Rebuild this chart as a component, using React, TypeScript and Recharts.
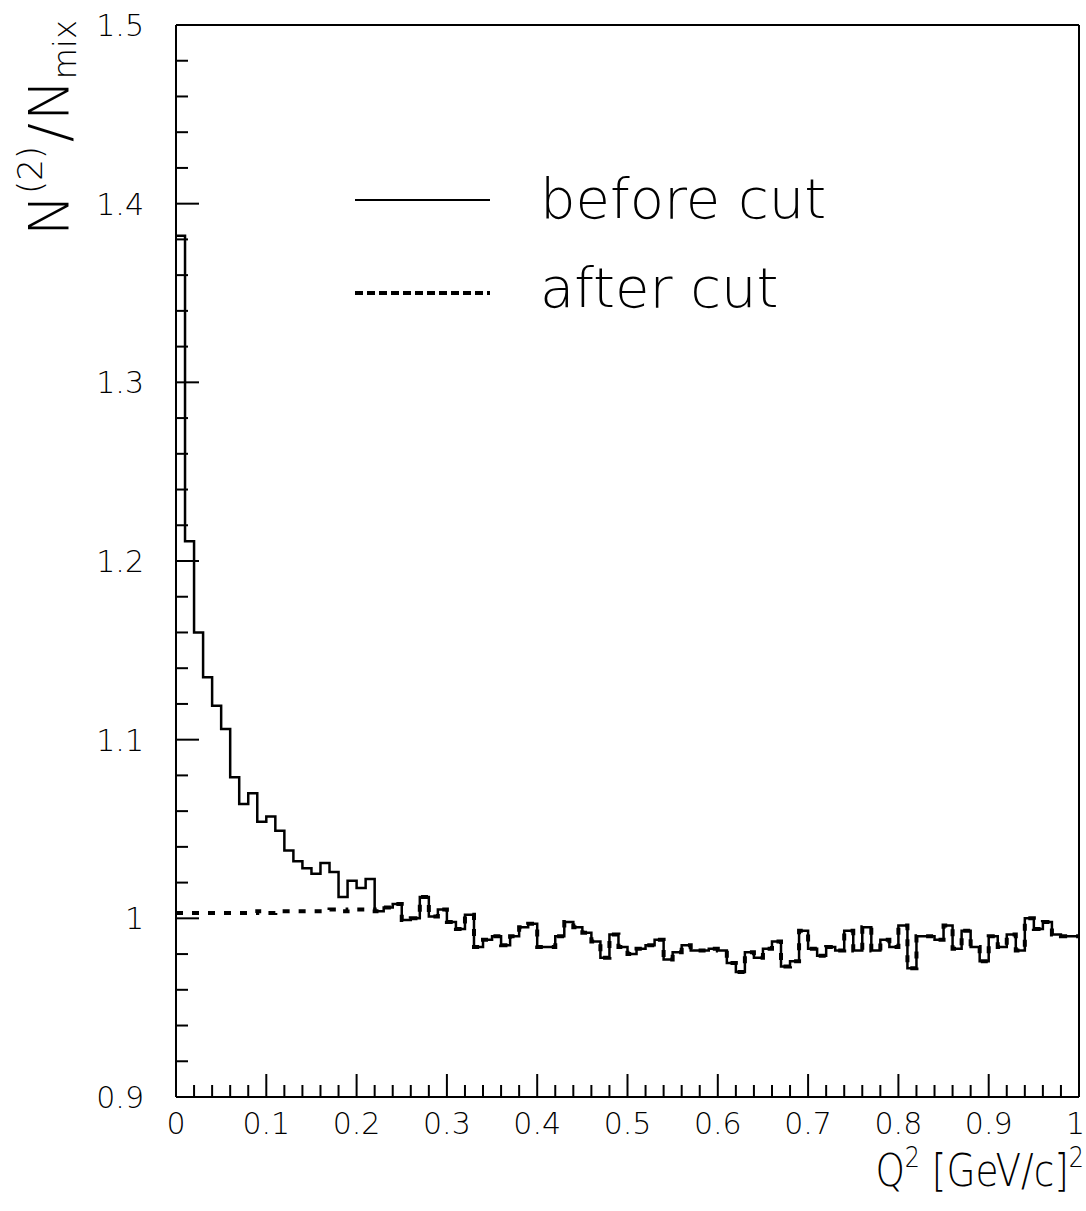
import { LineChart, Line, XAxis, YAxis, ReferenceLine, Legend } from "recharts";

// Q^2 bin width is 0.01 [GeV/c]^2, 100 bins from 0 to 1
const BIN = 0.01;

// bins 0..21 (Q^2 < 0.22), where the two curves separate
const beforeLow = [
  1.382, 1.211, 1.16, 1.135, 1.119, 1.106, 1.079, 1.064, 1.07, 1.054, 1.057,
  1.049, 1.038, 1.032, 1.028, 1.025, 1.031, 1.026, 1.012, 1.021, 1.017, 1.022,
];
const afterLow = [
  1.003, 1.003, 1.003, 1.003, 1.003, 1.003, 1.003, 1.003, 1.003, 1.004, 1.003,
  1.004, 1.004, 1.004, 1.004, 1.004, 1.004, 1.005, 1.004, 1.005, 1.005, 1.005,
];
// bins 22..99, both curves lie on top of each other
const common = [
  1.004, 1.006, 1.008, 0.999, 1.0, 1.012, 1.001, 1.005, 0.998, 0.994, 1.002,
  0.984, 0.988, 0.99, 0.985, 0.99, 0.995, 0.997, 0.984, 0.984, 0.99, 0.998,
  0.995, 0.992, 0.987, 0.978, 0.991, 0.984, 0.98, 0.983, 0.985, 0.988, 0.977,
  0.981, 0.985, 0.982, 0.982, 0.983, 0.982, 0.975, 0.97, 0.981, 0.978, 0.983,
  0.987, 0.973, 0.976, 0.993, 0.983, 0.979, 0.984, 0.982, 0.993, 0.982, 0.995,
  0.982, 0.988, 0.984, 0.996, 0.972, 0.99, 0.99, 0.988, 0.996, 0.983, 0.993,
  0.984, 0.976, 0.99, 0.984, 0.991, 0.982, 1.0, 0.994, 0.998, 0.991, 0.99,
  0.99,
];

const yTicks = [
  0.9, 0.92, 0.94, 0.96, 0.98, 1.0, 1.02, 1.04, 1.06, 1.08, 1.1, 1.12, 1.14,
  1.16, 1.18, 1.2, 1.22, 1.24, 1.26, 1.28, 1.3, 1.32, 1.34, 1.36, 1.38, 1.4,
  1.42, 1.44, 1.46, 1.48, 1.5,
];
const xTicks = [
  0, 0.02, 0.04, 0.06, 0.08, 0.1, 0.12, 0.14, 0.16, 0.18, 0.2, 0.22, 0.24,
  0.26, 0.28, 0.3, 0.32, 0.34, 0.36, 0.38, 0.4, 0.42, 0.44, 0.46, 0.48, 0.5,
  0.52, 0.54, 0.56, 0.58, 0.6, 0.62, 0.64, 0.66, 0.68, 0.7, 0.72, 0.74, 0.76,
  0.78, 0.8, 0.82, 0.84, 0.86, 0.88, 0.9, 0.92, 0.94, 0.96, 0.98, 1,
];

const before = [...beforeLow, ...common];
const after = [...afterLow, ...common];

const data = before.map((b, i) => ({ q: i * BIN, before: b, after: after[i] }));
// closing edge so the last step reaches Q^2 = 1
data.push({ q: 1, before: before[before.length - 1], after: after[after.length - 1] });

const FONT = "DejaVu Sans";

const isMajor = (v: number) => Math.abs(v * 10 - Math.round(v * 10)) < 1e-6;
const fmt = (v: number) => String(Number(v.toFixed(1)));

function YTick(props: any) {
  const { x, y, payload } = props;
  const major = isMajor(payload.value);
  return (
    <g>
      <line x1={x} x2={x + (major ? 23 : 12)} y1={y} y2={y} stroke="#000" strokeWidth={2} />
      {major && (
        <text x={x - 32} y={y + 11} textAnchor="end" fontFamily={FONT} fontWeight={300} fontSize={30} fill="#000">
          {fmt(payload.value)}
        </text>
      )}
    </g>
  );
}

function XTick(props: any) {
  const { x, y, payload } = props;
  const major = isMajor(payload.value);
  const last = payload.value === 1;
  return (
    <g>
      <line x1={x} x2={x} y1={y} y2={y - (major ? 23 : 12)} stroke="#000" strokeWidth={2} />
      {major && (
        <text
          x={last ? x + 6 : x}
          y={y + 37}
          textAnchor={last ? "end" : "middle"}
          fontFamily={FONT}
          fontWeight={300}
          fontSize={30}
          fill="#000"
        >
          {fmt(payload.value)}
        </text>
      )}
    </g>
  );
}

function YTitle() {
  return (
    <text transform="translate(68,236) rotate(-90)" fontFamily={FONT} fontWeight={300} fontSize={56} fill="#000">
      N
      <tspan fontSize={34} dy={-26}>(2)</tspan>
      <tspan fontSize={56} dy={26} dx={4}>/</tspan>
      <tspan dx={2}>N</tspan>
      <tspan fontSize={32} dy={8}>mix</tspan>
    </text>
  );
}

function XTitle() {
  return (
    <text transform="translate(1084,1186) scale(0.85,1)" textAnchor="end" fontFamily={FONT} fontWeight={300} fontSize={44} fill="#000">
      Q
      <tspan fontSize={28} dy={-19}>2</tspan>
      <tspan fontSize={44} dy={19}> [GeV/c]</tspan>
      <tspan fontSize={28} dy={-19}>2</tspan>
    </text>
  );
}

function LegendBox() {
  return (
    <svg width={560} height={220} style={{ overflow: "visible" }}>
      <line x1={5} x2={140} y1={50} y2={50} stroke="#000" strokeWidth={2} />
      <text x={190} y={68} fontFamily={FONT} fontWeight={300} fontSize={56} fill="#000">
        before cut
      </text>
      <line x1={5} x2={140} y1={143} y2={143} stroke="#000" strokeWidth={4} strokeDasharray="8 4" />
      <text x={190} y={157} fontFamily={FONT} fontWeight={300} fontSize={56} fill="#000">
        after cut
      </text>
    </svg>
  );
}

export default function App() {
  return (
    <div style={{ position: "absolute", left: 0, top: 0, background: "#fff" }}>
      <LineChart width={1086} height={1211} data={data} margin={{ top: 25, right: 7, bottom: 0, left: 0 }}>
        <XAxis
          dataKey="q"
          type="number"
          domain={[0, 1]}
          ticks={xTicks}
          interval={0}
          tickSize={0}
          tickMargin={0}
          height={114}
          tick={<XTick />}
          axisLine={{ stroke: "#000", strokeWidth: 2 }}
          label={<XTitle />}
        />
        <YAxis
          type="number"
          domain={[0.9, 1.5]}
          ticks={yTicks}
          interval={0}
          allowDataOverflow
          tickSize={0}
          tickMargin={0}
          width={176}
          tick={<YTick />}
          axisLine={{ stroke: "#000", strokeWidth: 2 }}
          label={<YTitle />}
        />
        <ReferenceLine y={1.5} stroke="#000" strokeWidth={2} />
        <ReferenceLine x={1} stroke="#000" strokeWidth={2} />
        <Legend
          layout="vertical"
          align="center"
          verticalAlign="middle"
          content={<LegendBox />}
          wrapperStyle={{ left: 350, top: 150, width: 560, height: 220 }}
        />
        <Line
          type="stepAfter"
          dataKey="before"
          stroke="#000"
          strokeWidth={2.5}
          dot={false}
          isAnimationActive={false}
        />
        <Line
          type="stepAfter"
          dataKey="after"
          stroke="#000"
          strokeWidth={4}
          strokeDasharray="7 9"
          dot={false}
          isAnimationActive={false}
        />
      </LineChart>
    </div>
  );
}
